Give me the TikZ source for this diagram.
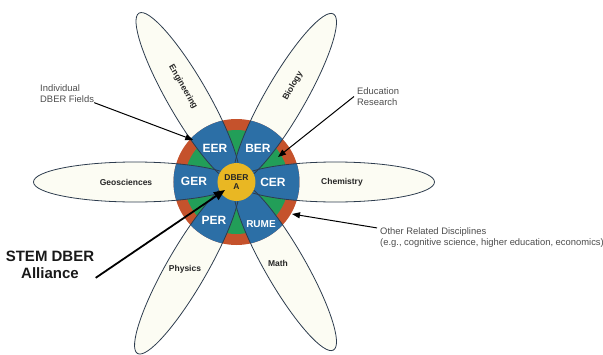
\documentclass[tikz,border=0pt]{standalone}
\usepackage{fontspec}
\setmainfont{Liberation Sans}
\usetikzlibrary{arrows.meta}
\definecolor{dberblue}{RGB}{44,111,166}
\definecolor{dberred}{RGB}{197,82,44}
\definecolor{dbergreen}{RGB}{34,158,88}
\definecolor{dberyellow}{RGB}{233,183,35}
\definecolor{petalcream}{RGB}{252,252,243}
\definecolor{petalline}{RGB}{45,60,78}
\begin{document}
\begin{tikzpicture}[
  petal/.style={fill=petalcream, draw=petalline, line width=0.8pt},
  rim/.style={draw=petalline, line width=0.8pt},
  field/.style={font=\bfseries\fontsize{8.5}{10}\selectfont, text=black!85},
  sector/.style={font=\bfseries\fontsize{12}{14}\selectfont, text=white},
  note/.style={font=\fontsize{9.4}{11}\selectfont, text=black!70, align=left, inner sep=0pt},
  pointer/.style={-{Triangle[length=8pt,width=6pt]}, line width=1pt}
]
\useasboundingbox (-236.5pt,-172pt) rectangle (366.5pt,182pt);
% petals
\draw[petal, rotate=0] (99pt,0pt) ellipse [x radius=99pt, y radius=20pt];
\draw[petal, rotate=60] (97pt,0pt) ellipse [x radius=97pt, y radius=20pt];
\draw[petal, rotate=120] (97.5pt,0pt) ellipse [x radius=97.5pt, y radius=20pt];
\draw[petal, rotate=180] (101.5pt,0pt) ellipse [x radius=101.5pt, y radius=20pt];
\draw[petal, rotate=240] (99pt,0pt) ellipse [x radius=99pt, y radius=20pt];
\draw[petal, rotate=300] (97pt,0pt) ellipse [x radius=97pt, y radius=20pt];
% ring
\fill[dberred] (0pt,0pt) circle (63pt);
\fill[dbergreen] (0pt,0pt) circle (52pt);
\begin{scope}
\clip (0pt,0pt) circle (63pt);
\fill[dberblue, rotate=0] (99pt,0pt) ellipse [x radius=99pt, y radius=20pt];
\fill[dberblue, rotate=60] (97pt,0pt) ellipse [x radius=97pt, y radius=20pt];
\fill[dberblue, rotate=120] (97.5pt,0pt) ellipse [x radius=97.5pt, y radius=20pt];
\fill[dberblue, rotate=180] (101.5pt,0pt) ellipse [x radius=101.5pt, y radius=20pt];
\fill[dberblue, rotate=240] (99pt,0pt) ellipse [x radius=99pt, y radius=20pt];
\fill[dberblue, rotate=300] (97pt,0pt) ellipse [x radius=97pt, y radius=20pt];
\draw[rim, rotate=0] (99pt,0pt) ellipse [x radius=99pt, y radius=20pt];
\draw[rim, rotate=60] (97pt,0pt) ellipse [x radius=97pt, y radius=20pt];
\draw[rim, rotate=120] (97.5pt,0pt) ellipse [x radius=97.5pt, y radius=20pt];
\draw[rim, rotate=180] (101.5pt,0pt) ellipse [x radius=101.5pt, y radius=20pt];
\draw[rim, rotate=240] (99pt,0pt) ellipse [x radius=99pt, y radius=20pt];
\draw[rim, rotate=300] (97pt,0pt) ellipse [x radius=97pt, y radius=20pt];
\end{scope}
\node[circle, fill=dberyellow, minimum size=38pt, inner sep=0pt, align=center,
  font=\bfseries\fontsize{8.5}{9.5}\selectfont, text=black!85] (hub) at (0pt,0pt) {DBER\\A};
% sector labels
\node[sector] (eer) at (-21.5pt,34pt) {EER};
\node[sector] (ber) at (21.5pt,34pt) {BER};
\node[sector] (ger) at (-42.5pt,1pt) {GER};
\node[sector] (cer) at (36.5pt,0pt) {CER};
\node[sector] (per) at (-22.5pt,-38pt) {PER};
\node[sector, font=\bfseries\fontsize{10}{12}\selectfont] (rume) at (24.5pt,-42pt) {RUME};
% petal labels
\node[field, rotate=-60] (eng) at (-53.5pt,95pt) {Engineering};
\node[field, rotate=60] (bio) at (56.5pt,96pt) {Biology};
\node[field] (geo) at (-110.5pt,0pt) {Geosciences};
\node[field] (chem) at (105.5pt,0pt) {Chemistry};
\node[field] (phys) at (-51.5pt,-87pt) {Physics};
\node[field] (math) at (41.5pt,-81pt) {Math};
% notes
\node[note, anchor=west] (fields) at (-196.5pt,88.5pt) {Individual\\DBER Fields};
\node[note, anchor=west] (edu) at (120.5pt,85.5pt) {Education\\Research};
\node[note, anchor=west] (other) at (143.5pt,-56pt) {Other Related Disciplines\\(e.g., cognitive science, higher education, economics)};
\node[font=\bfseries\fontsize{15}{17}\selectfont, align=center, text=black!90] (stem) at (-186.5pt,-82.5pt) {STEM DBER\\Alliance};
\coordinate (fieldstip) at (-43.2pt,42pt);
\coordinate (edutip) at (41.5pt,25pt);
\coordinate (othertip) at (55.5pt,-32pt);
\coordinate (stemtip) at (-11.5pt,-8pt);
\draw[pointer] (fields.south east) -- (fieldstip);
\draw[pointer] ([xshift=-3pt]edu.west) -- (edutip);
\draw[pointer] ([xshift=-3pt]other.north west) -- (othertip);
\draw[pointer, line width=1.8pt, -{Triangle[length=11pt,width=9pt]}] ([xshift=-2pt,yshift=4pt]stem.south east) -- (stemtip);
\end{tikzpicture}
\end{document}
